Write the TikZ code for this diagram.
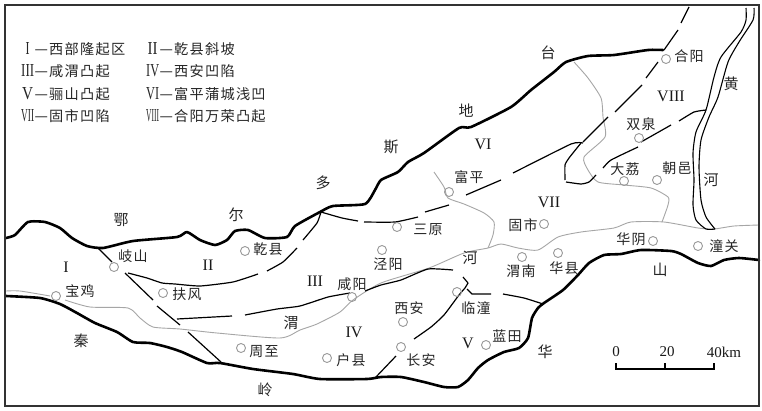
\documentclass[tikz,border=0pt]{standalone}
\usepackage{fontspec}
\usepackage{graphicx}
\setmainfont{Liberation Serif}
\newfontfamily\cjkf[LetterSpace=9]{Noto Sans CJK SC}
\newfontfamily\cjkplain{Noto Sans CJK SC}
\newcommand{\numfit}[2]{\resizebox{#1pt}{12pt}{#2}}
\newcommand{\legrow}[3]{\makebox[15pt][c]{\fontsize{14}{14}\selectfont\numfit{#1}{#2}}\hspace{-0.5pt}{\cjkplain\fontsize{15}{15}\selectfont —}\hspace{1pt}{\cjkf\fontsize{14.2}{14}\selectfont #3}}
\tikzset{
  thickb/.style={line width=2.6pt,black,line join=round,line cap=round},
  fault/.style={line width=1.2pt,black,line join=round,line cap=butt},
  yellowr/.style={line width=1.1pt,black,line join=round},
  river/.style={line width=0.9pt,black!35,line join=round},
  city/.style={circle,draw=black!40,line width=0.9pt,minimum size=9pt,inner sep=0pt,fill=none},
  lab/.style={font=\cjkf\fontsize{14}{14}\selectfont,text=black!85,inner sep=0pt},
  big/.style={font=\cjkplain\fontsize{15}{15}\selectfont,text=black!85,inner sep=0pt},
  rom/.style={font=\fontsize{16}{16}\selectfont,text=black!90,inner sep=0pt},
  legend/.style={anchor=west,text=black!85,inner sep=0pt},
  scalet/.style={font=\fontsize{15}{15}\selectfont,text=black!90,inner sep=0pt},
}
\begin{document}
\begin{tikzpicture}[x=1pt,y=-1pt]
\useasboundingbox (0,0) rectangle (762,410);
\fill[white] (0,0) rectangle (762,410);

% rivers
\draw[river] plot[smooth,tension=.4] coordinates {(6,291)(20,291)(50,296)};
\draw[river] plot[smooth,tension=.4] coordinates {(65,300)(90,307)(128,308)(140,318)(153,327)(180,329)(217,333)(280,338)(300,330)(317,324)(340,312)(353,300)(381,283)(429,268)(464,253)(488,248)(501,244)(518,248)(538,250)(558,237)(581,232)(614,228)(631,222)(664,222)(698,228)(714,229)(734,226)(759,225)};
\draw[river] plot[smooth,tension=.4] coordinates {(434,172)(444,187)(448,198)(464,204)(484,213)(494,222)(493,235)(488,248)};
\draw[river] plot[smooth,tension=.4] coordinates {(574,62)(588,78)(601,98)(603,117)(605,137)(584,157)(588,170)(598,182)(624,185)(651,188)(668,197)(668,205)(662,222)};

% Yellow river
\draw[yellowr] plot[smooth,tension=.4] coordinates {(746,8)(746,20)(741,32)(721,57)(714,77)(706,110)(696,132)(693,153)(694,180)(693,205)(696,220)(706,229)(715,229)};
\draw[yellowr] plot[smooth,tension=.4] coordinates {(754,8)(753,20)(739,42)(728,62)(718,97)(709,117)(701,140)(699,167)(701,200)(706,217)(715,229)};

% faults
\draw[fault] (689,7)--(681,23);
\draw[fault] (678,30)--(664,50);
\draw[fault] (658,62)--(646,78);
\draw[fault] (642,85)--(615,112);
\draw[fault] (608,117)--(583,142);
\draw[fault] plot[smooth,tension=.3] coordinates {(583,143)(571,144)(513,173)};
\draw[fault] (501,180)--(466,195);
\draw[fault] (449,205)--(425,212);
\draw[fault] plot[smooth,tension=.3] coordinates {(418,217)(395,222)(364,222)};
\draw[fault] plot[smooth,tension=.3] coordinates {(321,212)(342,218)(358,221)};
\draw[fault] plot[smooth,tension=.3] coordinates {(581,143)(569,158)(565,165)(565,180)};
\draw[fault] plot[smooth,tension=.3] coordinates {(566,182)(581,184)(589,182)(596,175)};
\draw[fault] plot[smooth,tension=.3] coordinates {(603,168)(611,160)(638,147)};
\draw[fault] (641,142)--(671,125);
\draw[fault] plot[smooth,tension=.3] coordinates {(679,121)(694,112)(706,110)};
\draw[fault] (97,247)--(112,262);
\draw[fault] (125,273)--(153,300);
\draw[fault] (157,306)--(180,325);
\draw[fault] (188,332)--(221,362);
\draw[fault] plot[smooth,tension=.3] coordinates {(128,273)(147,278)(162,283)(175,284)(200,286)(233,282)(258,274)};
\draw[fault] plot[smooth,tension=.3] coordinates {(267,271)(283,262)(297,248)};
\draw[fault] plot[smooth,tension=.3] coordinates {(303,240)(317,223)(321,212)};
\draw[fault] (177,319)--(232,316);
\draw[fault] plot[smooth,tension=.3] coordinates {(245,315)(277,309)(300,306)(328,297)(350,293)};
\draw[fault] plot[smooth,tension=.3] coordinates {(365,291)(381,285)(401,280)(428,269)(453,270)};
\draw[fault] (463,277)--(468,283)--(465,288);
\draw[fault] plot[smooth,tension=.3] coordinates {(465,288)(459,295)(444,315)(431,327)(414,339)};
\draw[fault] (396,356)--(375,378);
\draw[fault] (467,289)--(472,294)--(491,294);
\draw[fault] plot[smooth,tension=.3] coordinates {(503,294)(524,298)(543,304)};

% thick boundaries
\draw[thickb] plot[smooth,tension=.35] coordinates {(6,238)(15,235)(28,222)(45,222)(60,228)(72,238)(87,246)(103,248)(133,241)(177,237)(187,232)(200,240)(215,245)(227,240)(235,231)(248,230)(265,238)(287,237)(295,226)(320,212)(333,206)(365,204)(375,190)(381,180)(398,172)(408,162)(424,153)(459,128)(471,127)(511,107)(531,90)(554,72)(566,62)(588,56)(614,55)(648,50)(663,50)};
\draw[thickb] plot[smooth,tension=.35] coordinates {(6,296)(40,298)(60,304)(77,313)(95,323)(117,332)(133,342)(150,343)(167,347)(182,352)(207,363)(220,363)(253,369)(293,374)(320,379)(367,379)(381,377)(401,377)(424,382)(444,387)(458,387)(468,380)(478,368)(488,360)(504,352)(519,348)(528,338)(532,318)(538,308)(544,303)(563,290)(578,275)(589,263)(604,255)(621,254)(641,250)(671,251)(681,254)(698,263)(711,266)(724,260)(739,258)(759,260)};

% frame
\draw[line width=1.5pt,black!80] (5,5) rectangle (759,406);

% cities
\node[city] (baoji) at (56,296) {};
\node[city] (qishan) at (114,267) {};
\node[city] (fufeng) at (163,293) {};
\node[city] (qianxian) at (245,251) {};
\node[city] (zhouzhi) at (241,348) {};
\node[city] (huxian) at (327,358) {};
\node[city] (xianyang) at (352,297) {};
\node[city] (jingyang) at (382,250) {};
\node[city] (sanyuan) at (397,227) {};
\node[city] (fuping) at (449,192) {};
\node[city] (gushi) at (544,224) {};
\node[city] (weinan) at (522,257) {};
\node[city] (huaxian) at (558,253) {};
\node[city] (huayin) at (653,241) {};
\node[city] (tongguan) at (698,246) {};
\node[city] (lintong) at (457,292) {};
\node[city] (xian) at (403,322) {};
\node[city] (changan) at (401,347) {};
\node[city] (lantian) at (486,345) {};
\node[city] (heyang) at (666,59) {};
\node[city] (shuangquan) at (639,138) {};
\node[city] (dali) at (624,181) {};
\node[city] (chaoyi) at (657,180) {};

% city labels
\node[lab] (l1) at (80,291) {宝鸡};
\node[lab] (l2) at (133,256) {岐山};
\node[lab] (l3) at (187,294) {扶风};
\node[lab] (l4) at (268,249) {乾县};
\node[lab] (l5) at (264,352) {周至};
\node[lab] (l6) at (351,360) {户县};
\node[lab] (l7) at (352,284) {咸阳};
\node[lab] (l8) at (388,264) {泾阳};
\node[lab] (l9) at (428,230) {三原};
\node[lab] (l10) at (469,177) {富平};
\node[lab] (l11) at (523,225) {固市};
\node[lab] (l12) at (521,271) {渭南};
\node[lab] (l13) at (564,268) {华县};
\node[lab] (l14) at (631,239) {华阴};
\node[lab] (l15) at (724,246) {潼关};
\node[lab] (l16) at (476,308) {临潼};
\node[lab] (l17) at (409,308) {西安};
\node[lab] (l18) at (421,360) {长安};
\node[lab] (l19) at (507,336) {蓝田};
\node[lab] (l20) at (689,56) {合阳};
\node[lab] (l21) at (641,124) {双泉};
\node[lab] (l22) at (625,169) {大荔};
\node[lab] (l23) at (677,168) {朝邑};

% region labels
\node[big] (b1) at (121,220) {鄂};
\node[big] (b2) at (236,215) {尔};
\node[big] (b3) at (323,183) {多};
\node[big] (b4) at (391,147) {斯};
\node[big] (b5) at (466,111) {地};
\node[big] (b6) at (548,53) {台};
\node[big] (b7) at (731,84) {黄};
\node[big] (b8) at (711,180) {河};
\node[big] (b9) at (660,270) {山};
\node[big] (b10) at (545,352) {华};
\node[big] (b11) at (265,390) {岭};
\node[big] (b12) at (81,341) {秦};
\node[big] (b13) at (291,323) {渭};
\node[big] (b14) at (470,258) {河};

% Roman numerals
\node[rom] (r1) at (66,267) {I};
\node[rom] (r2) at (208,265) {II};
\node[rom] (r3) at (315,281) {III};
\node[rom] (r4) at (354,332) {IV};
\node[rom] (r5) at (468,343) {V};
\node[rom] (r6) at (483,144) {VI};
\node[rom] (r7) at (549,202) {VII};
\node[rom] (r8) at (671,96) {VIII};

% legend
\node[legend] (k1) at (20,49) {\legrow{4}{I}{西部隆起区}};
\node[legend] (k2) at (145,49) {\legrow{10}{II}{乾县斜坡}};
\node[legend] (k3) at (20,71) {\legrow{13}{III}{咸渭凸起}};
\node[legend] (k4) at (145,71) {\legrow{13}{IV}{西安凹陷}};
\node[legend] (k5) at (20,94) {\legrow{11}{V}{骊山凸起}};
\node[legend] (k6) at (145,94) {\legrow{13}{VI}{富平蒲城浅凹}};
\node[legend] (k7) at (20,116) {\legrow{13}{VII}{固市凹陷}};
\node[legend] (k8) at (145,116) {\legrow{13}{VIII}{合阳万荣凸起}};

% scale bar
\coordinate (s0) at (616,369);
\coordinate (s1) at (665,369);
\coordinate (s2) at (714,369);
\draw[line width=1.3pt,black] (616,363)--(s0)--(s1)--(s2)--(714,363);
\draw[line width=1.3pt,black] (s1)--(665,363);
\node[scalet] (t0) at (616,352) {0};
\node[scalet] (t1) at (667,352) {20};
\node[scalet] (t2) at (724,352) {40km};
\end{tikzpicture}
\end{document}
